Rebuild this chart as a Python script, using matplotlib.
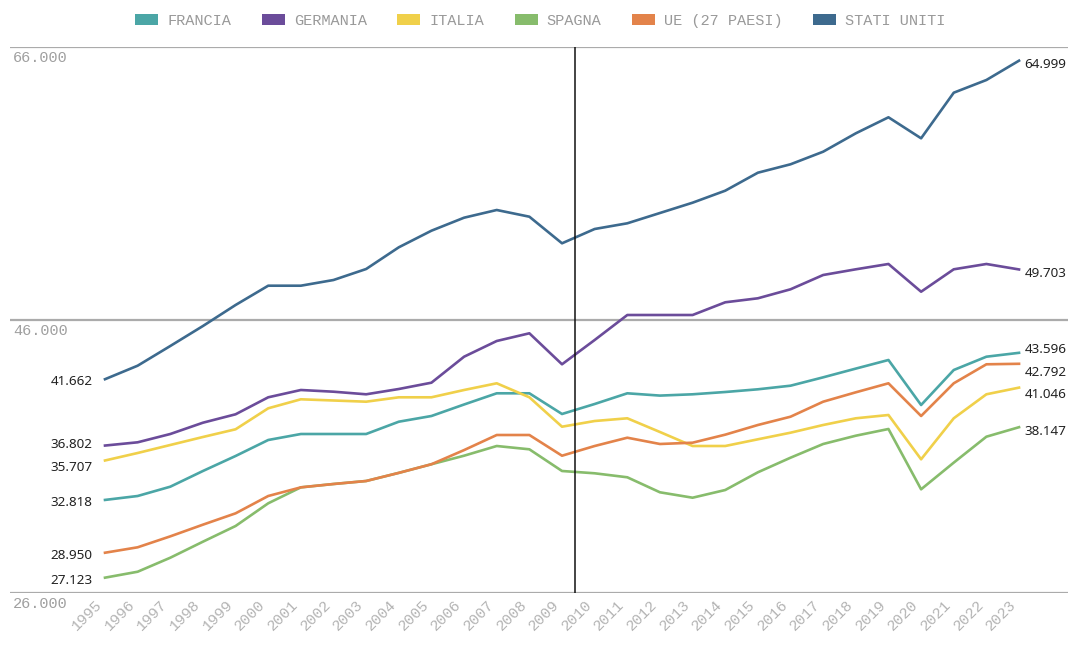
import matplotlib
matplotlib.use("Agg")
import matplotlib.pyplot as plt
from matplotlib.patches import Patch

years = list(range(1995, 2024))

francia = [32818, 33106, 33788, 34938, 36037, 37209, 37648, 37648, 37648, 38549,
           38967, 39810, 40630, 40630, 39114, 39846, 40630, 40462, 40557, 40725,
           40923, 41187, 41800, 42440, 43070, 39773, 42337, 43311, 43596]
germania = [36802, 37040, 37648, 38476, 39092, 40337, 40872, 40747, 40557, 40945,
            41407, 43311, 44462, 45026, 42755, 44535, 46366, 46366, 46366, 47297,
            47590, 48249, 49297, 49714, 50103, 48073, 49714, 50103, 49703]
italia = [35707, 36256, 36843, 37429, 37993, 39531, 40191, 40103, 40015, 40337,
          40337, 40872, 41363, 40337, 38183, 38600, 38799, 37795, 36769, 36769,
          37260, 37744, 38308, 38799, 39040, 35795, 38799, 40557, 41046]
spagna = [27123, 27558, 28584, 29759, 30908, 32571, 33740, 33985, 34205, 34800,
          35433, 36058, 36769, 36527, 34938, 34770, 34477, 33377, 32981, 33545,
          34843, 35912, 36916, 37524, 38015, 33597, 35551, 37451, 38147]
ue27 = [28950, 29348, 30150, 31006, 31836, 33106, 33740, 33985, 34205, 34800,
        35433, 36470, 37575, 37575, 36058, 36769, 37377, 36916, 37011, 37600,
        38308, 38915, 40015, 40703, 41363, 38967, 41363, 42755, 42792]
stati_uniti = [41662, 42652, 44095, 45560, 47099, 48513, 48513, 48930, 49736, 51326,
               52542, 53495, 54059, 53568, 51619, 52667, 53084, 53839, 54594, 55473,
               56791, 57407, 58330, 59677, 60850, 59311, 62652, 63582, 64999]

names = ["FRANCIA", "GERMANIA", "ITALIA", "SPAGNA", "UE (27 PAESI)", "STATI UNITI"]
series = [francia, germania, italia, spagna, ue27, stati_uniti]
colors = ["#4BA6A6", "#6B4C9A", "#F0D04A", "#87BC6C", "#E3834A", "#3D6A8E"]

y_ticks = [26000, 46000, 66000]
cursor_year = 2009.4


def fmt(v):
    return f"{v:,}".replace(",", ".")


def spread(vals, gap):
    # push label positions apart so they do not overlap
    order = sorted(range(len(vals)), key=lambda i: vals[i])
    pos = [vals[i] for i in order]
    for _ in range(50):
        moved = False
        for k in range(len(pos) - 1):
            d = pos[k + 1] - pos[k]
            if d < gap:
                shift = (gap - d) / 2
                pos[k] -= shift
                pos[k + 1] += shift
                moved = True
        if not moved:
            break
    out = [0] * len(vals)
    for k, i in enumerate(order):
        out[i] = pos[k]
    return out


fig = plt.figure(figsize=(10.68, 6.45), dpi=100)
ax = fig.add_axes([10 / 1068, 1 - 593 / 645, 1 - 10 / 1068, (593 - 47) / 645])

for name, vals, c in zip(names, series, colors):
    ax.plot(years, vals, color=c, lw=1.9, solid_joinstyle="round", zorder=3)

ax.set_xlim(1992.09, 2024.5)
ax.set_ylim(26000, 66000)

for t in y_ticks:
    ax.axhline(t, color="#ababab", lw=1.6, zorder=1)
    ax.annotate(fmt(t), xy=(0, t), xycoords=("axes fraction", "data"),
                xytext=(2, -3), textcoords="offset points", ha="left", va="top",
                fontsize=11, color="#a0a0a0", family="Liberation Mono")

ax.axvline(cursor_year, color="#111111", lw=1.1, zorder=4)

ax.set_yticks([])
ax.set_xticks(years)
ax.set_xticklabels([str(y) for y in years], rotation=45, ha="right",
                   fontsize=11, color="#b4b4b4", family="Liberation Mono")
ax.tick_params(axis="x", length=0, pad=3)
for s in ax.spines.values():
    s.set_visible(False)

# end labels
gap = 1650
first = spread([v[0] for v in series], gap)
last = spread([v[-1] for v in series], gap)
for i, vals in enumerate(series):
    ax.annotate(fmt(vals[0]), xy=(years[0], first[i]), xytext=(-9, -2),
                textcoords="offset points", ha="right", va="center",
                fontsize=9.7, color="#222222", family="Noto Sans")
    ax.annotate(fmt(vals[-1]), xy=(years[-1], last[i]), xytext=(4, -3),
                textcoords="offset points", ha="left", va="center",
                fontsize=9.7, color="#222222", family="Noto Sans")

handles = [Patch(facecolor=c, edgecolor="none") for c in colors]
fig.legend(handles, names, loc="upper center", bbox_to_anchor=(0.506, 1.0),
           ncol=6, frameon=False, handlelength=1.5, handleheight=0.7,
           handletextpad=0.6, columnspacing=2.0,
           prop={"family": "Liberation Mono", "size": 11},
           labelcolor="#999999")

fig.savefig("out.png", dpi=100)
